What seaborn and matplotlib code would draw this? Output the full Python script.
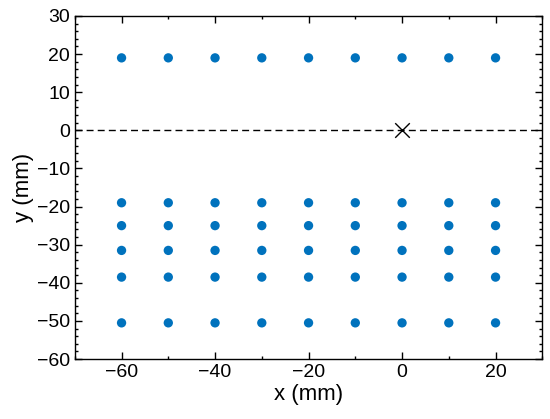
import numpy as np
import pandas as pd
import seaborn as sns
import matplotlib.pyplot as plt
from matplotlib.ticker import MultipleLocator

sns.set_style("ticks", {"axes.edgecolor": "black", "text.color": "black",
                        "axes.labelcolor": "black", "xtick.color": "black",
                        "ytick.color": "black"})
plt.rcParams["font.family"] = ["Liberation Sans", "DejaVu Sans"]

# measurement grid
x_cols = [-60, -50, -40, -30, -20, -10, 0, 10, 20]
y_rows = [19, -19, -25, -31.5, -38.5, -50.5]
source_x = [0]
source_y = [0]

xx, yy = np.meshgrid(x_cols, y_rows)
df = pd.DataFrame({"x": xx.ravel(), "y": yy.ravel()})

fig, ax = plt.subplots(figsize=(5.5, 4.19), dpi=100)
fig.subplots_adjust(left=0.136, right=0.986, top=0.962, bottom=0.143)

ax.axhline(0, color="black", linestyle=(0, (5, 3)), linewidth=1.0, zorder=1)
sns.scatterplot(data=df, x="x", y="y", ax=ax, color="#0072BD", s=45,
                edgecolor="none", zorder=2)
ax.scatter(source_x, source_y, marker="x", color="black", s=110,
           linewidths=1.0, zorder=3)

ax.set_xlim(-70, 30)
ax.set_ylim(-60, 30)
ax.xaxis.set_major_locator(MultipleLocator(20))
ax.xaxis.set_minor_locator(MultipleLocator(10))
ax.yaxis.set_major_locator(MultipleLocator(10))
ax.yaxis.set_minor_locator(MultipleLocator(2))
ax.tick_params(which="both", direction="in", top=True, right=True,
               labelsize=14, width=1.0, colors="black")
ax.tick_params(which="major", length=5)
ax.tick_params(which="minor", length=2.5)
for sp in ax.spines.values():
    sp.set_linewidth(1.0)
    sp.set_color("black")

ax.set_xlabel("x (mm)", fontsize=16, labelpad=2, color="black")
ax.set_ylabel("y (mm)", fontsize=16, labelpad=2, color="black")

fig.savefig("out.png", dpi=100)
